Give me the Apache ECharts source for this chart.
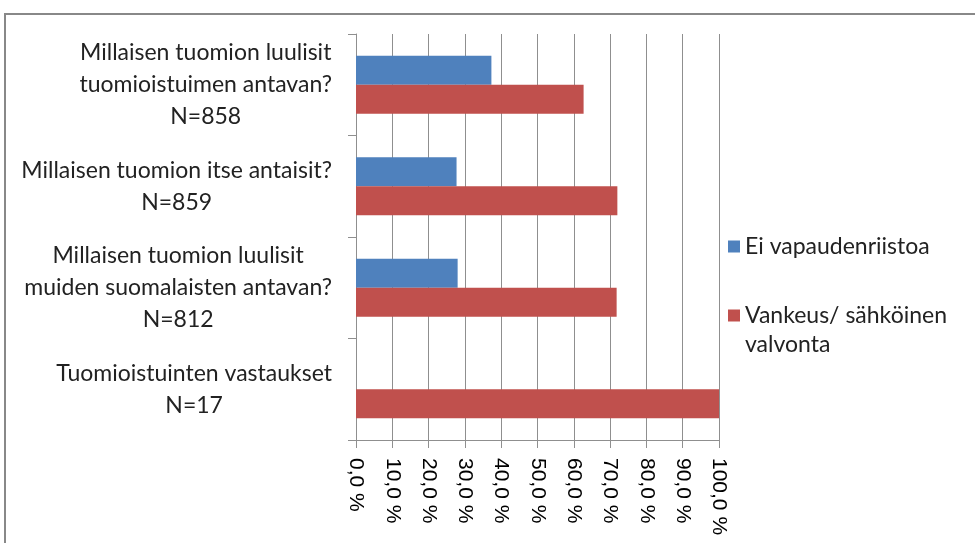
<!DOCTYPE html>
<html>
<head>
<meta charset="utf-8">
<script src="https://cdn.jsdelivr.net/npm/echarts@6/dist/echarts.min.js"></script>
<style>
  html, body { margin: 0; padding: 0; background: #fff; }
  #chart { width: 975px; height: 543px; }
</style>
</head>
<body>
<div id="chart"></div>
<script>
const categories = [
  'Millaisen tuomion luulisit\ntuomioistuimen antavan?\nN=858',
  'Millaisen tuomion itse antaisit?\nN=859',
  'Millaisen tuomion luulisit\nmuiden suomalaisten antavan?\nN=812',
  'Tuomioistuinten vastaukset\nN=17'
]
const seriesNames = ['Ei vapaudenriistoa', 'Vankeus/ sähköinen valvonta']
const eiValues = [37.3, 27.7, 28.0, 0]
const vankeusValues = [62.7, 72.0, 71.8, 100]
const xTicks = [0, 10, 20, 30, 40, 50, 60, 70, 80, 90, 100]

const chart = echarts.init(document.getElementById('chart'))
const labelFont = 'Lato'
const gridColor = '#8f8f8f'

// empty first line keeps the icon level with "Vankeus/ sähköinen"
const legendText = {
  'Ei vapaudenriistoa': 'Ei vapaudenriistoa',
  'Vankeus/ sähköinen valvonta': '\nVankeus/ sähköinen\nvalvonta'
}

const option = {
  animation: false,
  graphic: [{
    type: 'rect',
    shape: { x: 5, y: 14, width: 1000, height: 600 },
    style: { fill: 'none', stroke: '#888', lineWidth: 2 },
    silent: true
  }],
  grid: { left: 356, right: 256, top: 34, bottom: 103 },
  legend: [
    {
      data: [seriesNames[0]],
      orient: 'vertical',
      left: 728,
      top: 232,
      padding: 0,
      itemWidth: 12,
      itemHeight: 12,
      icon: 'rect',
      formatter: n => legendText[n],
      textStyle: { fontFamily: labelFont, fontSize: 23, lineHeight: 29, color: '#222' }
    },
    {
      data: [seriesNames[1]],
      orient: 'vertical',
      left: 728,
      top: 272,
      padding: 0,
      itemWidth: 12,
      itemHeight: 12,
      icon: 'rect',
      formatter: n => legendText[n],
      textStyle: { fontFamily: labelFont, fontSize: 23, lineHeight: 29, color: '#222' }
    }
  ],
  xAxis: {
    type: 'value',
    min: xTicks[0],
    max: xTicks[xTicks.length - 1],
    interval: 10,
    axisLine: { show: true, lineStyle: { color: gridColor } },
    axisTick: { show: true, length: 8, lineStyle: { color: gridColor } },
    splitLine: { show: true, lineStyle: { color: gridColor } },
    axisLabel: {
      rotate: -90,
      margin: 18,
      fontFamily: 'Liberation Sans',
      fontSize: 21,
      color: '#000',
      formatter: v => v.toFixed(1).replace('.', ',') + ' %'
    }
  },
  yAxis: {
    type: 'category',
    inverse: true,
    data: categories,
    axisLine: { show: true, lineStyle: { color: gridColor } },
    axisTick: { show: true, length: 8, lineStyle: { color: gridColor } },
    axisLabel: {
      margin: 24,
      align: 'right',
      fontFamily: labelFont,
      fontSize: 23,
      lineHeight: 32,
      color: '#222',
      formatter: v => v.split('\n').map(s => '{c|' + s + '}').join('\n'),
      rich: {
        c: { align: 'center', fontFamily: labelFont, fontSize: 23, lineHeight: 32, color: '#222' }
      }
    }
  },
  series: [
    {
      name: seriesNames[0],
      type: 'bar',
      data: eiValues,
      barGap: 0,
      barCategoryGap: '43%',
      itemStyle: { color: '#4f81bd' }
    },
    {
      name: seriesNames[1],
      type: 'bar',
      data: vankeusValues,
      barGap: 0,
      barCategoryGap: '43%',
      itemStyle: { color: '#c0504d' }
    }
  ]
}
chart.setOption(option)
</script>
</body>
</html>
